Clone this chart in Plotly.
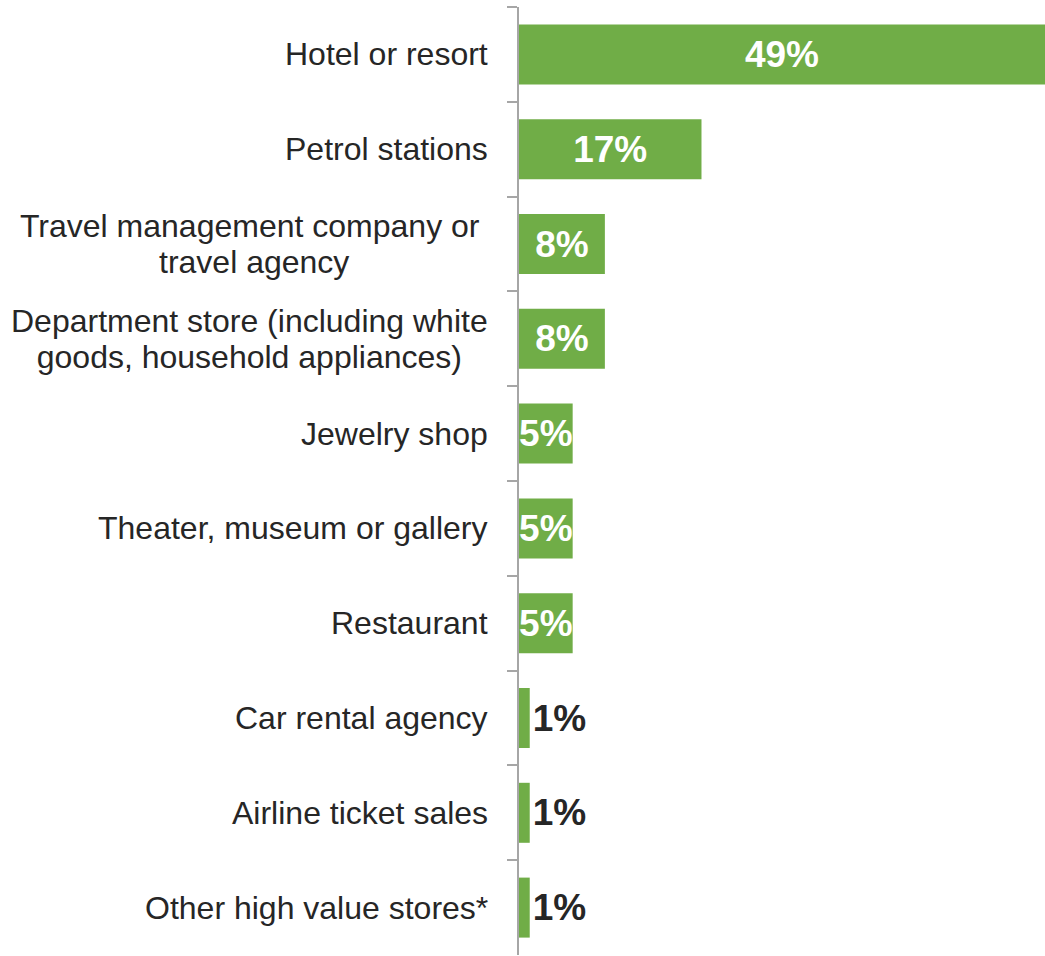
import plotly.graph_objects as go

# Share of respondents by merchant type
categories = [
    "Hotel or resort",
    "Petrol stations",
    "Travel management company or\u00a0<br>travel agency",
    "Department store (including white<br>goods, household appliances)",
    "Jewelry shop",
    "Theater, museum or gallery",
    "Restaurant",
    "Car rental agency",
    "Airline ticket sales",
    "Other high value stores*",
]
values = [49, 17, 8, 8, 5, 5, 5, 1, 1, 1]
value_labels = [f"{v}%" for v in values]

GREEN = "#70AD47"
DARK = "#262626"
AXIS_GREY = "#A6A6A6"
FONT = "Liberation Sans, Arial, sans-serif"

# Small bars carry their label outside the bar
positions = ["inside" if v >= 5 else "outside" for v in values]

fig = go.Figure(
    go.Bar(
        x=values,
        y=categories,
        orientation="h",
        marker=dict(color=GREEN, line=dict(width=0)),
        text=value_labels,
        textposition=positions,
        textangle=0,
        constraintext="none",
        insidetextanchor="middle",
        insidetextfont=dict(family=FONT, size=37, color="white", weight="bold"),
        outsidetextfont=dict(family=FONT, size=37, color=DARK, weight="bold"),
        cliponaxis=False,
        hoverinfo="skip",
    )
)


def label_markup(cat, size=32):
    # each line gets its own span so the glyphs are larger than the line pitch
    return "<br>".join(
        f'<span style="font-size:{size}px">{line}</span>' for line in cat.split("<br>")
    )


# Category labels: block right-aligned to the axis, lines centred within the block
for cat in categories:
    fig.add_annotation(
        x=0,
        xref="paper",
        y=cat,
        yref="y",
        text=label_markup(cat),
        showarrow=False,
        xanchor="right",
        yanchor="middle",
        align="center",
        xshift=-29,
        font=dict(family=FONT, size=28, color=DARK),
    )

fig.update_layout(
    width=1045,
    height=956,
    margin=dict(l=519, r=0, t=7, b=1),
    plot_bgcolor="white",
    paper_bgcolor="white",
    bargap=0.367,
    showlegend=False,
    uniformtext=dict(mode=False),
    barmode="overlay",
)
fig.update_layout(font=dict(family=FONT))

fig.update_xaxes(
    range=[0, 49],
    visible=False,
    showgrid=False,
    zeroline=False,
)
fig.update_yaxes(
    type="category",
    autorange="reversed",
    showticklabels=False,
    showgrid=False,
    zeroline=False,
    showline=True,
    linecolor=AXIS_GREY,
    linewidth=2,
    ticks="outside",
    tickson="boundaries",
    ticklen=10,
    tickwidth=2,
    tickcolor=AXIS_GREY,
)

fig.write_html("out.html")
